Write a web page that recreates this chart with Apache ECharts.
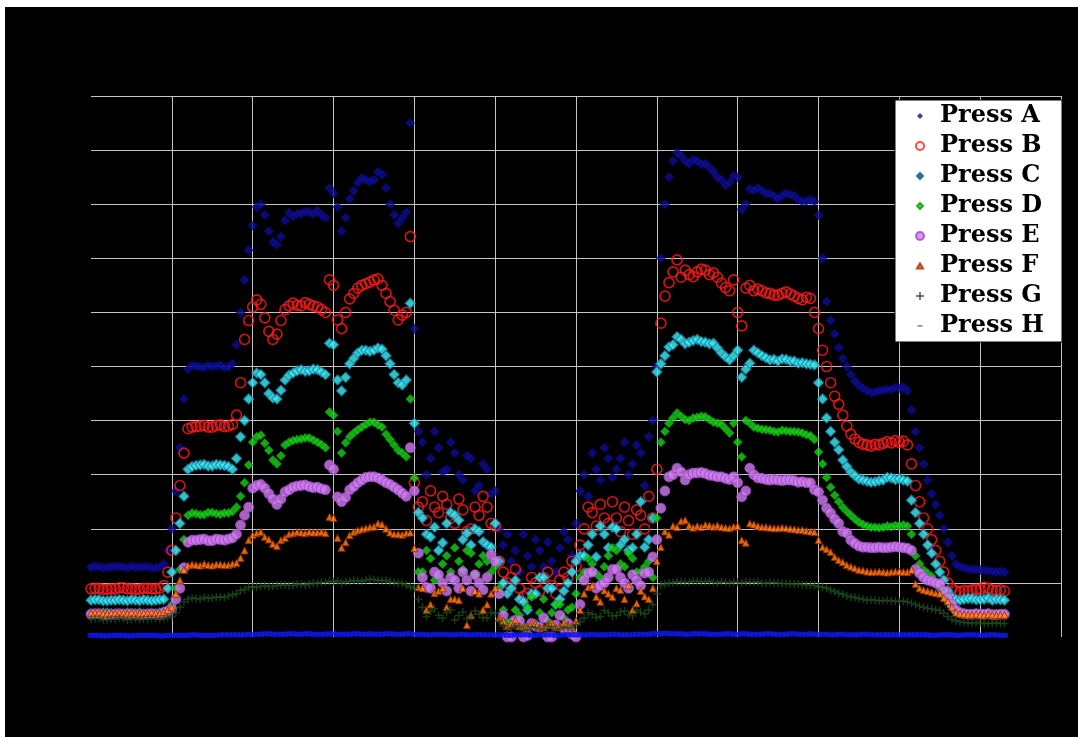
<!DOCTYPE html>
<html><head><meta charset="utf-8">
<script src="https://cdn.jsdelivr.net/npm/echarts@6/dist/echarts.min.js"></script>
<style>
html,body{margin:0;padding:0;background:#fff;width:1078px;height:737px;overflow:hidden}
#c{position:absolute;left:5px;top:7px;width:1073px;height:730px;}
</style></head>
<body><div id="c"></div>
<script>
// one reading every half x-unit, starting at x = 0
const X_STEP = 0.5;
const seriesNames = ['Press A','Press B','Press C','Press D','Press E','Press F','Press G','Press H'];

const pressA = [12.9,13.1,13.0,12.8,12.8,13.0,13.0,13.1,12.9,12.8,13.1,12.9,12.9,13.0,13.0,12.8,12.8,13.0,
 13.5,16,20,27,35,44,49.5,50.2,
 50.1,49.9,49.8,50.2,50.0,50.1,50.3,49.8,49.9,50.5,
 54,60,66,71.5,76,79.5,80,78,75,73,72.5,74,77,78.4,77.8,78.2,78.3,78.6,78.5,78.2,78.8,78,77.5,83,
 82,79.5,75,77.5,81,82.5,84,84.8,84.5,84.2,84.5,86,85.5,83,80,78,76.5,77.5,78.5,95,
 57,38,36,30,33,38,35,30.5,31,36,34,30,29,33.5,33,27,28,32,31,26.5,27,20,
 17,19,14,16,12,19,15,13,18,16,13,17.5,14,12,16.5,19.5,18,15,21,27,
 30,26,34,31,29,35,33,29.5,31,33,36,30,32,35.5,34,28,37,40,
 50,70,80,85,88,89.5,89,88,87.5,88.2,88,87.4,87.5,86.8,86,85,84.5,83.5,84,85.2,
 85,79,80,82.8,82.6,83,82.5,82,82,81.5,81,81.6,82,81.8,81.5,80.8,80.5,80.6,80.8,80.5,
 78,70,62,58.5,56,53.5,51.5,50,48.5,47.3,46.5,46,45.5,45.2,45.3,45.5,45.6,45.8,45.8,46.1,46,46.2,45.5,42,
 38,35,32,29,26.5,24.5,22.5,20,17.5,15,13.5,13,12.8,12.6,12.5,12.5,12.4,12.3,12.3,12.1,12,12.1,12];
const pressB = [8.9,9.0,9.0,8.8,8.8,8.9,8.9,9.1,9.1,8.9,8.9,8.8,8.8,9.0,9.0,8.9,8.9,9.0,
 9.5,12,16,22,28,34,38.5,38.8,
 38.9,39.0,39.1,38.8,38.8,39.1,39.2,38.9,39.0,39.3,
 41,47,55,58.5,61,62.3,61.5,59,56.5,55,56,58.5,60.5,61.2,61.7,61.3,61.2,61.8,61.5,61.2,61,60.5,60,66,
 65,58.6,57,60,62.5,63.5,64.5,65,65.3,65.6,66,66.2,65,63.5,62,60.4,58.6,59.5,60,74,
 28.5,24,25,21.5,27,24,23,26,24.5,22,21,25.5,23.5,19.5,20,24,22.5,26,24,21,20.5,14,
 12,10,11,12.5,9,7.5,8,11,10,8.5,11,12,9.5,8,10.5,12,11,14,13,17,
 20,24,23,20.5,24.5,22,21,25,22,19.5,24,21.5,19,23.5,22.5,20,26,22,
 31,58,63,65.5,67.5,69.7,66.5,67.8,67,66.6,67.5,68,67.8,67,67.3,66.5,65.4,64.6,64,66,
 60,57.5,64.5,65,64,64.3,64,63.6,63.5,63.2,63.2,63.5,63.8,63.4,63,62.6,62.3,62.8,62.6,60,
 57,53,50,47,44.5,43,41,39,37.5,36.6,36,35.6,35.5,35.3,35.6,35.5,35.8,36.1,35.9,36.3,36,36.2,35.5,32,
 28,25,22,20,18,16,14,12,10,9,8.5,8.4,8.6,8.5,8.7,8.8,8.8,9.2,9,8.7,8.6,8.7,8.5];
const pressC = [6.8,6.9,6.9,6.7,6.7,6.8,6.8,6.9,6.8,6.7,6.9,6.8,6.7,6.9,6.8,6.7,6.8,6.9,
 7,9,12,16,21,26,31,31.5,
 31.7,31.8,31.9,31.6,31.6,31.9,31.8,31.7,31.5,31,
 33,37,40,44,47,48.8,48.5,47,45,44.2,44,45.6,47.5,48.4,48.8,49.2,49.4,49.1,49.2,49.5,49.4,49.0,48.5,54.3,
 54,47.5,45.5,48,50.5,51.5,52.5,53,53,52.8,53,53.4,53.2,52,50.5,48.5,47,46.6,47.5,61.7,
 39.5,23,22,19,18.5,20.3,16,17.4,21,23,22.5,21.6,18,19.2,17,20,19.5,17.6,17,16.6,21,14,
 10,8,9,10.5,7,6.5,5,8,8,11,11,9,9,6,7,8.5,10,12,14,15,
 15,17,19,14.8,20.5,19,16.5,20.3,20,17,18,16,16.5,19,25,16.6,18,22,
 49,50.5,52,53.6,54,55.5,55,54.2,54.5,54.8,55,54.6,54.5,54.2,54.3,53.4,52.5,51.8,51.2,52,
 53,48,49.5,50.6,53,52.5,52,51.6,51.2,51.3,51,51.4,51.3,51,51,50.6,50.7,50.5,50.4,50.3,
 47,44,40.5,38,36,34.6,32.7,31.5,30.5,29.8,29.2,29,28.8,28.6,28.7,28.9,29,29.5,29.4,29.1,29.2,29,28.8,25.3,
 23,21,19,17,15.5,13.5,12,10.5,8.5,7.4,6.9,6.8,7.0,7.1,7.1,6.9,6.9,7.0,7.2,6.8,7.0,6.9,6.8];
const pressD = [4.5,4.4,4.4,4.6,4.6,4.5,4.5,4.4,4.5,4.6,4.4,4.5,4.6,4.4,4.5,4.5,4.5,4.6,
 4.8,5,6,9,12.5,18,22.5,22.9,
 22.8,22.6,22.6,23.0,23,22.8,22.7,22.9,22.9,23.2,
 24,26,28.5,31.8,36,37,37.3,35.8,34.5,32.7,32,33.5,35.5,36,36.3,36.5,36.6,36.8,36.8,36.4,36,35.6,35,41.6,
 41,38,34,35.9,37,37.7,38.3,38.8,39.3,39.7,39.7,39.2,38.8,37.5,36.5,35.5,34.5,34,33.3,44,
 29.4,12,12,16,14.5,10.5,11,13.5,15,12,16.5,14,12.5,16,15.5,11.5,13.5,15,14,12,13,9,
 5,2.6,3,5,4,2,5.5,7.4,2.5,4.5,7,3,4.5,6,6,3.5,5,5.5,8,11,
 12,14.5,13.5,11.8,11,13,15,16.5,16,13.5,13,15.5,14.5,12,12,13,14,11,
 22,36,38,39.5,40.5,41.4,40.8,40.2,40,40.5,40.6,40.8,40.7,40.2,39.7,39.5,39.3,38.5,37.7,39.5,
 36,33.3,40,39.5,38.8,38.6,38.4,38.3,38.2,38.0,37.9,38.2,38.1,38.0,38,37.9,37.7,37.4,37.2,36.5,
 34.2,32,29.5,27.7,26.2,25,24,23.2,22.5,21.8,21.2,20.8,20.5,20.3,20.3,20.2,20.3,20.5,20.4,20.6,20.6,20.7,20.5,19,
 15,13.5,12.4,11.8,11.2,10,9,7.8,6.5,5.5,4.8,4.5,4.4,4.3,4.3,4.4,4.3,4.2,4.4,4.3,4.3,4.2,4.2];
const pressE = [4.2,4.3,4.3,4.1,4.1,4.2,4.2,4.3,4.2,4.1,4.3,4.2,4.1,4.2,4.2,4.3,4.2,4.1,
 4.5,4.8,5.2,7,9,12.8,17.5,17.9,
 17.9,18.0,18.1,17.8,17.8,18.1,18.0,17.9,18.1,18.3,
 19,20.7,22.5,24,27.5,28,28.2,27.5,26.5,25.5,24.5,25.5,26.8,27.2,27.7,27.9,28,28.1,27.8,27.6,27.7,27.4,27.2,31.8,
 31,25.9,25,25.8,27.2,27.8,28.5,29,29.5,29.6,29.6,29.4,29,28.5,28.2,27.7,27.2,26.6,26,35,
 27,15.5,11,9.2,9,12,11.5,10,8.5,11,10.5,9,12,10.5,8.5,11.5,10,8.7,11,15.2,14,8,
 4,0,0,3.1,3,0,0.3,2.5,2,1.8,3.5,0,0,2.2,4,1.5,2.5,0.5,0,6,
 10.5,11.8,12,9,9.5,10,11,12.5,12.5,11,10,9,11.5,10.5,9.5,11.8,12,14.8,
 18,23.8,27,29.6,30,31.2,30.5,29,30,30.3,30.3,30.4,30.2,29.9,29.8,29.6,29.6,29.3,29.1,29.6,
 28.5,25.9,27,31.2,30,29.4,29.3,29.1,29,29.1,29,28.9,29,29,28.9,28.6,28.7,28.5,28.5,27.2,
 26.8,25.3,23.8,22.9,21.8,21,19.5,19.2,17.9,17.3,16.8,16.6,16.6,16.5,16.5,16.6,16.5,16.5,16.6,16.7,16.6,16.5,16.4,16,
 12.5,11.8,11,10.5,10.3,10,9.8,8.5,7.2,6,5,4.5,4.3,4.2,4.2,4.3,4.2,4.2,4.3,4.1,4.1,4.2,4.2];
const pressF = [4.4,4.5,4.5,4.3,4.3,4.4,4.4,4.5,4.4,4.3,4.5,4.4,4.3,4.4,4.4,4.5,4.4,4.3,
 4.6,5,5.5,8,10.5,12.4,13.2,13.4,
 13.3,13.2,13.5,13.3,13.2,13.4,13.4,13.3,13.3,13.5,
 13.7,14.6,16,17.9,18.8,19.2,19.4,18.5,18,17.2,16.8,17.9,18.3,19,19.2,19.4,19.3,19.2,19.4,19.3,19.3,19.4,19.2,22.2,
 22,18.3,16.5,17.5,18.8,19.4,19.7,19.9,20.1,20.3,20.4,21,20.8,20,19.3,19,19,18.9,19.2,19.3,
 16.4,9.2,9,5,6,8.1,8.5,9,5.5,7,7,6.8,9,2.2,4,8.5,8,5,6,8,9,3.5,
 3,2,2.5,3.1,2,1.8,1.8,2.6,2.4,1.8,1.8,2.2,2.6,1.8,2,2.6,2.2,1.9,3,5,
 8,9.2,9.5,7.4,6.5,8.6,8,7.4,9,8.7,7,9.5,5,6.2,8.5,7.5,7,9,
 14,16.6,19.5,18.9,20.5,20.3,21.4,21.6,20.6,20.2,20.5,20.3,20.7,20.6,20.4,20.6,20.3,20.2,20.1,20.4,
 20.5,17.9,17.4,21,20.8,20.5,20.3,20.3,20.2,20.1,20.1,20.2,20.1,20.0,19.9,19.8,19.8,19.6,19.5,19.4,
 17.9,16.6,16.2,15.7,14.8,14.2,13.8,13.3,13,12.7,12.4,12.3,12.1,12,12,12.1,12,11.9,12,12.1,12.1,12,12,12.4,
 9.8,9,8.7,8.5,8.3,8.1,8,7.2,6.6,5.5,4.5,4.3,4.2,4.1,4.1,4.2,4.1,4.0,4.2,4.1,4.0,4.1,4.1];
const pressG = [3.3,3.4,3.4,3.2,3.2,3.3,3.3,3.5,3.4,3.2,3.3,3.4,3.2,3.3,3.3,3.4,3.4,3.3,
 3.4,3.6,3.8,4.5,5.5,6.5,7,7.2,
 7.1,7.0,7.3,7.2,7.2,7.4,7.4,7.3,7.6,7.8,
 8,8.6,8.8,9.2,9.3,9.2,9.4,9.5,9.3,9.4,9.5,9.6,9.6,9.5,9.5,9.8,9.7,9.6,9.8,10,9.9,10.1,10.1,10.3,
 10.2,10.4,10,10.2,10.3,10.5,10.4,10.3,10.5,10.7,10.6,10.5,10.4,10.5,10.2,10.1,10,9.9,9.6,9.3,
 9,7,5.5,3.8,4.8,5.2,4,3.5,4.5,5,3.2,4,4.6,3.4,3.8,4.8,4.2,3.6,3.5,4.5,4.4,3,
 2,1.5,1.6,2.1,1.8,1.3,1.4,1.9,1.7,1.5,1.5,2,1.9,1.4,1.6,1.8,1.8,1.6,2.2,2.8,
 3.5,4.5,4.2,3.6,3.8,4.9,4.5,3.9,4,4.6,4.8,4.1,3.9,5,4.6,4.3,5,6,
 8,9.6,9.8,10,10,10.2,10.2,10.1,10.1,10.3,10.3,10.2,10.2,10.3,10.1,10,10.2,10.1,10,10.2,
 10.1,10,10.2,10.1,10.1,10.2,10,9.9,10.1,10,10,9.9,9.9,9.8,9.8,9.8,9.7,9.6,9.6,9.5,
 9.3,9.2,9,8.7,8.4,8.1,7.9,7.6,7.4,7.3,7.1,7,6.8,6.9,6.8,6.7,6.7,6.8,6.7,6.6,6.6,6.6,6.5,6.3,
 6,5.7,5.5,5.3,5.2,5,4.9,4.4,3.8,3.3,3,2.8,2.7,2.6,2.6,2.7,2.6,2.5,2.5,2.6,2.6,2.5,2.5];
const pressH = [0.3,0.3,0.3,0.2,0.2,0.3,0.3,0.3,0.3,0.2,0.2,0.3,0.3,0.3,0.3,0.3,0.3,0.2,0.2,0.3,
 0.3,0.3,0.3,0.3,0.3,0.4,0.4,0.3,0.3,0.3,0.3,0.3,0.4,0.4,0.4,0.4,0.4,0.4,0.4,0.5,
 0.5,0.5,0.5,0.6,0.6,0.5,0.5,0.5,0.5,0.6,0.6,0.5,0.5,0.6,0.6,0.5,0.5,0.5,0.5,0.6,
 0.6,0.5,0.5,0.5,0.5,0.6,0.6,0.5,0.5,0.6,0.5,0.5,0.5,0.6,0.6,0.5,0.5,0.5,0.6,0.6,
 0.5,0.5,0.5,0.4,0.4,0.5,0.5,0.5,0.5,0.4,0.4,0.5,0.5,0.4,0.4,0.4,0.5,0.4,0.4,0.4,
 0.4,0.4,0.4,0.3,0.3,0.4,0.4,0.4,0.4,0.3,0.3,0.4,0.4,0.4,0.4,0.3,0.3,0.4,0.4,0.4,
 0.4,0.4,0.4,0.4,0.5,0.4,0.4,0.4,0.4,0.5,0.5,0.4,0.4,0.4,0.4,0.5,0.5,0.5,0.5,0.6,
 0.6,0.6,0.7,0.6,0.6,0.6,0.6,0.5,0.5,0.6,0.6,0.6,0.6,0.5,0.5,0.5,0.5,0.6,0.6,0.5,
 0.5,0.6,0.6,0.5,0.5,0.5,0.5,0.6,0.6,0.5,0.5,0.5,0.5,0.6,0.6,0.5,0.5,0.5,0.6,0.5,
 0.5,0.5,0.5,0.4,0.4,0.5,0.5,0.4,0.4,0.4,0.4,0.5,0.5,0.4,0.4,0.4,0.4,0.4,0.4,0.4,
 0.4,0.4,0.4,0.4,0.4,0.4,0.4,0.4,0.3,0.3,0.4,0.4,0.4,0.4,0.3,0.3,0.4,0.4,0.4,0.4,
 0.3,0.3,0.4,0.4,0.4,0.3,0.3];

function pts(arr){ return arr.map((v,i)=>[i*X_STEP, v]); }

const diamondIcon = 'path://M0,0M8,8M4,1L7,4L4,7L1,4Z';
const triIcon = 'path://M0,0M8,8M4,1.5L7,6.5H1Z';
const plusPath = 'path://M3.3,0H4.7V3.3H8V4.7H4.7V8H3.3V4.7H0V3.3H3.3Z';
const dashIcon = 'path://M0,0M8,8M1.5,3.2H6.5V4.8H1.5Z';
const styles = [
  {symbol:'diamond', size:10, item:{color:'#0d0d92'}},
  {symbol:'circle', size:10, item:{color:'rgba(0,0,0,0)', borderColor:'#ff1a1a', borderWidth:1.7}},
  {symbol:'diamond', size:10, item:{color:'#3ef2f2', borderColor:'#1c86b0', borderWidth:1.2}},
  {symbol:'diamond', size:9, item:{color:'#19d019', borderColor:'#0a9a0a', borderWidth:0.8}},
  {symbol:'circle', size:10, item:{color:'#cf7df0', borderColor:'#9c45c4', borderWidth:1}},
  {symbol:'triangle', size:7, item:{color:'#ff8c10', borderColor:'#a82000', borderWidth:1}},
  {symbol:plusPath, size:8, item:{color:'#1d4d1d'}},
  {symbol:'rect', size:[7,5], item:{color:'#0c16e8'}}
];
const values = [pressA,pressB,pressC,pressD,pressE,pressF,pressG,pressH];

const chart = echarts.init(document.getElementById('c'), null, {renderer:'canvas'});
chart.setOption({
  animation:false,
  backgroundColor:'#000',
  grid:{left:86, top:89, right:17, bottom:100},
  xAxis:{type:'value', min:0, max:120, interval:10,
    axisLine:{show:false}, axisTick:{show:false}, axisLabel:{show:false},
    splitLine:{show:true, showMinLine:false, lineStyle:{color:'#c4c4c4', width:1}}},
  yAxis:{type:'value', min:0, max:100, interval:10,
    axisLine:{show:false}, axisTick:{show:false}, axisLabel:{show:false},
    splitLine:{show:true, showMinLine:false, lineStyle:{color:'#c4c4c4', width:1}}},
  legend:{orient:'vertical', left:890, top:93, padding:[4,18,4,20],
    itemWidth:30, itemHeight:8, itemGap:6, symbolKeepAspect:true,
    backgroundColor:'#fff', borderColor:'#000', borderWidth:1, selectedMode:false,
    textStyle:{fontFamily:'DejaVu Serif', fontWeight:'bold', fontSize:24, lineHeight:24, color:'#000'},
    data:[
      {name:'Press A', icon:diamondIcon},
      {name:'Press B'},
      {name:'Press C', icon:diamondIcon, itemStyle:{color:'#0a5f7a', borderColor:'#0a5f7a'}},
      {name:'Press D', icon:diamondIcon},
      {name:'Press E'},
      {name:'Press F', icon:triIcon},
      {name:'Press G', icon:plusPath, itemStyle:{color:'#222'}},
      {name:'Press H', icon:dashIcon, itemStyle:{color:'#666'}}
    ]},
  series: seriesNames.map((n,k)=>({
    name:n, type:'scatter', data:pts(values[k]),
    symbol:styles[k].symbol, symbolSize:styles[k].size, symbolKeepAspect:true,
    itemStyle:styles[k].item, z:2+k
  }))
});
</script>
</body></html>
